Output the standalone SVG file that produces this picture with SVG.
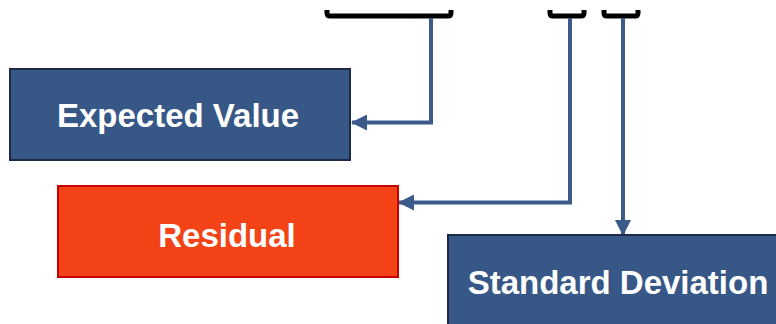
<svg xmlns="http://www.w3.org/2000/svg" width="776" height="324" viewBox="0 0 776 324">
<defs>
<marker id="ah" markerWidth="16" markerHeight="16" refX="15" refY="8" orient="auto" markerUnits="userSpaceOnUse">
<path d="M0,0 L16,8 L0,16 Z" fill="#3b5a8a"/>
</marker>
<style>
.br{fill:none;stroke:#000;stroke-width:5;stroke-linejoin:round}
.cn{fill:none;stroke:#3b5a8a;stroke-width:4}
.blue{fill:#375787;stroke:#1c2a45;stroke-width:2}
.red{fill:#f44316;stroke:#c80000;stroke-width:2}
.t{font-family:"Liberation Sans",Arial,sans-serif;font-weight:bold;font-size:33px;fill:#fff;text-anchor:middle}
</style>
</defs>
<g id="brackets">
<path class="br" d="M327,10 V13 Q327,16 330,16 H448 Q451,16 451,13 V10"/>
<path class="br" d="M550,10 V13 Q550,16 553,16 H581 Q584,16 584,13 V10"/>
<path class="br" d="M604,10 V13 Q604,16 607,16 H635 Q638,16 638,13 V10"/>
</g>
<g id="connectors">
<path class="cn" d="M431,18 V122.5 H352" marker-end="url(#ah)"/>
<path class="cn" d="M570,18 V202.5 H399" marker-end="url(#ah)"/>
<path class="cn" d="M623,18 V235" marker-end="url(#ah)"/>
</g>
<g id="expected-value">
<rect class="blue" x="10" y="69" width="340" height="91"/>
<text class="t" x="178" y="127">Expected Value</text>
</g>
<g id="residual">
<rect class="red" x="58" y="186" width="340" height="91"/>
<text class="t" x="227" y="247">Residual</text>
</g>
<g id="standard-deviation">
<rect class="blue" x="448" y="235" width="340" height="92"/>
<text class="t" x="618" y="294">Standard Deviation</text>
</g>
</svg>
